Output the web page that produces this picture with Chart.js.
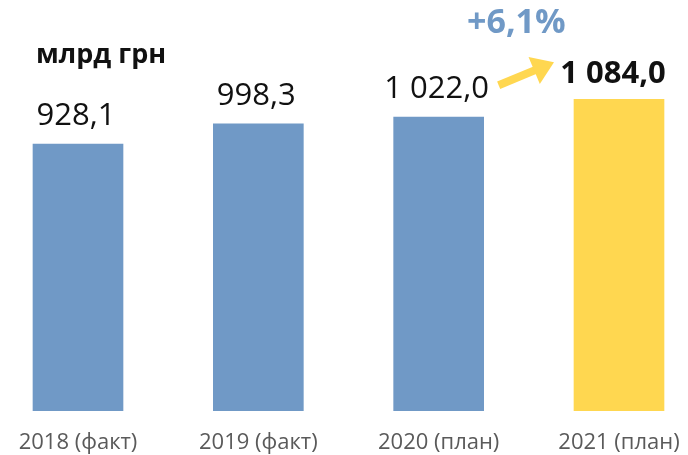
<!DOCTYPE html>
<html>
<head>
<meta charset="utf-8">
<script src="https://cdn.jsdelivr.net/npm/chart.js@4"></script>
<style>
  html, body { margin: 0; padding: 0; background: #fff; }
  #wrap { width: 688px; height: 455px; position: relative; }
</style>
</head>
<body>
<div id="wrap"><canvas id="budgetChart"></canvas></div>
<script>
// ============================================================
// DATA
// ============================================================
const years = ['2018 (факт)', '2019 (факт)', '2020 (план)', '2021 (план)'];
const revenue = [928.1, 998.3, 1022.0, 1084.0];
const valueLabels = ['928,1', '998,3', '1 022,0', '1 084,0'];
const growthLabel = '+6,1%';
const unitLabel = 'млрд грн';

const COLORS = {
  blue: '#7099C6',
  yellow: '#FFD750',
  text: '#111111',
  tick: '#5A5A5A',
  growth: '#7099C6'
};
const FONT = '"Open Sans", sans-serif';

// ============================================================
// PLUGIN — value labels, unit caption, growth arrow
// ============================================================
const annotations = {
  id: 'annotations',
  afterDatasetsDraw(chart) {
    const { ctx } = chart;
    const bars = chart.getDatasetMeta(0).data;
    const last = bars.length - 1;
    ctx.save();
    ctx.textAlign = 'center';
    ctx.textBaseline = 'alphabetic';

    // values above bars
    bars.forEach((bar, i) => {
      const bold = i === last;
      ctx.font = (bold ? '700 31px ' : '400 31px ') + FONT;
      ctx.fillStyle = COLORS.text;
      ctx.fillText(valueLabels[i], bar.x + (bold ? -6 : -2), bar.y - (bold ? 16 : 19));
    });

    // unit caption
    ctx.textAlign = 'left';
    ctx.font = '700 27px ' + FONT;
    ctx.fillText(unitLabel, bars[0].x - 42, 63);

    // growth arrow between last two labels
    const from = bars[last - 1], to = bars[last];
    const x1 = from.x + 60, y1 = to.y - 14;
    const x2 = to.x - 65, y2 = to.y - 37;
    const ang = Math.atan2(y2 - y1, x2 - x1);
    ctx.strokeStyle = COLORS.yellow;
    ctx.fillStyle = COLORS.yellow;
    ctx.lineWidth = 8;
    ctx.beginPath();
    ctx.moveTo(x1, y1);
    ctx.lineTo(x2 - 10 * Math.cos(ang), y2 - 10 * Math.sin(ang));
    ctx.stroke();
    ctx.beginPath();
    ctx.moveTo(x2, y2);
    ctx.lineTo(x2 - 26 * Math.cos(ang - 0.6), y2 - 26 * Math.sin(ang - 0.6));
    ctx.lineTo(x2 - 26 * Math.cos(ang + 0.6), y2 - 26 * Math.sin(ang + 0.6));
    ctx.closePath();
    ctx.fill();

    // growth percent
    ctx.textAlign = 'center';
    ctx.font = '700 34px ' + FONT;
    ctx.fillStyle = COLORS.growth;
    ctx.fillText(growthLabel, (x1 + x2) / 2 - 10, 33);
    ctx.restore();
  }
};

// ============================================================
// CHART
// ============================================================
new Chart(document.getElementById('budgetChart'), {
  type: 'bar',
  data: {
    labels: years,
    datasets: [{
      data: revenue,
      backgroundColor: [COLORS.blue, COLORS.blue, COLORS.blue, COLORS.yellow],
      barThickness: 90,
      borderWidth: 0,
      clip: false
    }]
  },
  options: {
    responsive: true,
    maintainAspectRatio: false,
    animation: false,
    layout: { padding: { left: 78, right: 69, top: 66, bottom: -12 } },
    plugins: { legend: { display: false }, tooltip: { enabled: false } },
    scales: {
      x: {
        offset: false,
        grid: { display: false },
        border: { display: false },
        afterFit(scale) {
          // labels may overhang the edges; keep the plot width fixed
          scale.paddingLeft = 0;
          scale.paddingRight = 0;
        },
        ticks: {
          color: COLORS.tick,
          font: { family: FONT, size: 22 },
          padding: 11,
          maxRotation: 0,
          autoSkip: false
        }
      },
      y: {
        display: false,
        min: 0,
        max: 1200
      }
    }
  },
  plugins: [annotations]
});
</script>
</body>
</html>
